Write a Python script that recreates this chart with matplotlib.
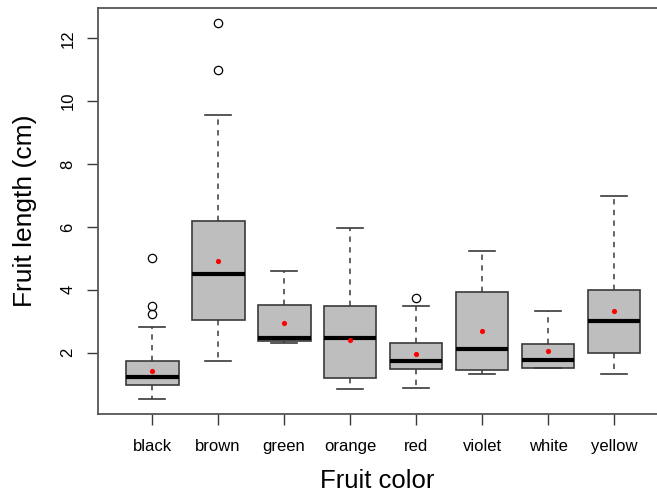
import matplotlib
matplotlib.use("Agg")
import matplotlib.pyplot as plt

plt.rcParams['font.family'] = ['Liberation Sans', 'DejaVu Sans']

categories = ['black', 'brown', 'green', 'orange', 'red', 'violet', 'white', 'yellow']
whisker_low = [0.53, 1.73, 2.32, 0.83, 0.87, 1.33, 1.52, 1.33]
quartile_1 = [0.98, 3.05, 2.38, 1.18, 1.48, 1.45, 1.52, 2.00]
median = [1.22, 4.50, 2.48, 2.48, 1.73, 2.12, 1.78, 3.00]
quartile_3 = [1.73, 6.20, 3.53, 3.47, 2.32, 3.93, 2.27, 3.98]
whisker_high = [2.83, 9.55, 4.60, 5.98, 3.47, 5.24, 3.33, 7.00]
mean = [1.43, 4.93, 2.95, 2.40, 1.96, 2.69, 2.04, 3.32]
outliers = [[5.0, 3.47, 3.24], [12.5, 11.0], [], [], [3.73], [], [], []]
y_ticks = [2, 4, 6, 8, 10, 12]

W, H = 657, 496
fig = plt.figure(figsize=(W / 100, H / 100), dpi=100)
left, right, bottom, top = 97.5, 657, 496 - 413.7, 496 - 7.5
ax = fig.add_axes([left / W, bottom / H, (right - left) / W, (top - bottom) / H])

stats = []
for i, name in enumerate(categories):
    stats.append(dict(label=name, whislo=whisker_low[i], q1=quartile_1[i],
                      med=median[i], q3=quartile_3[i], whishi=whisker_high[i],
                      fliers=outliers[i]))

edge = '#3a3a3a'
positions = list(range(1, len(categories) + 1))
ax.bxp(stats, positions=positions, widths=0.8, patch_artist=True,
       boxprops=dict(facecolor='#bebebe', edgecolor=edge, linewidth=1.2),
       medianprops=dict(color='black', linewidth=3.0, solid_capstyle='butt'),
       whiskerprops=dict(color=edge, linewidth=1.1, linestyle=(0, (3.5, 3.5))),
       capprops=dict(color=edge, linewidth=1.2),
       capwidths=0.4,
       flierprops=dict(marker='o', markerfacecolor='none', markeredgecolor='black',
                       markersize=6, markeredgewidth=0.9),
       showfliers=True)

ax.scatter(positions, mean, s=14, color='red', zorder=5, linewidths=0)

ax.set_xlim(0.172, 8.651)
ax.set_ylim(0.06, 12.98)
ax.set_yticks(y_ticks)
ax.set_yticklabels([str(t) for t in y_ticks], rotation=90, va='center', fontsize=12)
ax.set_xticks(positions)
ax.set_xticklabels(categories, fontsize=12)
ax.tick_params(axis='both', direction='out', length=8, width=1.0, color=edge,
               labelcolor='black')
ax.tick_params(axis='x', pad=10)
ax.tick_params(axis='y', pad=8)

for side in ['left', 'bottom', 'top']:
    ax.spines[side].set_color('#555555')
    ax.spines[side].set_linewidth(1.3)
ax.spines['right'].set_visible(False)

ax.set_xlabel('Fruit color', fontsize=18.5, labelpad=11)
ax.set_ylabel('Fruit length (cm)', fontsize=19, labelpad=17)

fig.savefig('out.png', dpi=100)
